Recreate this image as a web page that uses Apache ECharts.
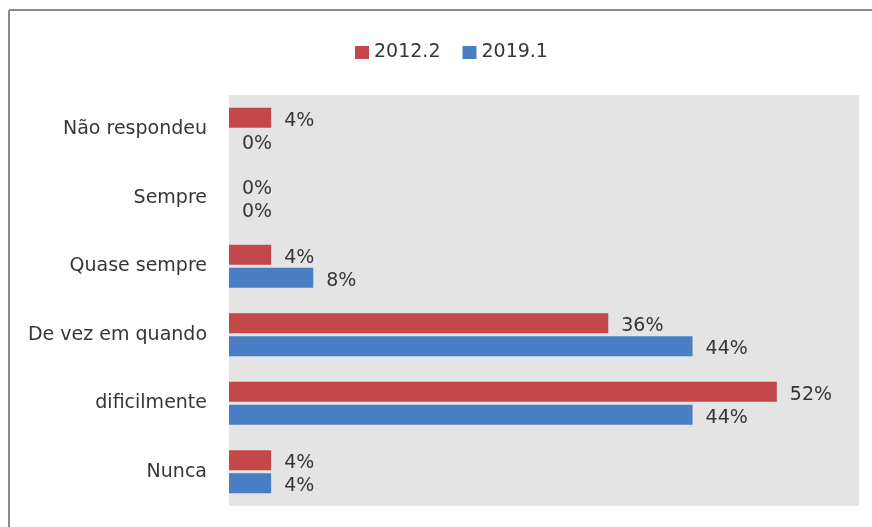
<!DOCTYPE html>
<html><head><meta charset="utf-8">
<script src="https://cdn.jsdelivr.net/npm/echarts@6/dist/echarts.min.js"></script>
<style>html,body{margin:0;padding:0;background:#fff}#c{width:872px;height:527px}</style>
</head><body><div id="c"></div>
<script>
const categories = ['Nunca', 'dificilmente', 'De vez em quando', 'Quase sempre', 'Sempre', 'Não respondeu'];
const seriesNames = ['2012.2', '2019.1'];
const values2012 = [4, 52, 36, 4, 0, 4];
const values2019 = [4, 44, 44, 8, 0, 0];

const FONT = 'DejaVu Sans';
const TXT = '#363636';
const chart = echarts.init(document.getElementById('c'), null, {renderer: 'canvas'});
const lbl = {show: true, position: 'right', distance: 13, offset: [0, 3], formatter: '{c}%', color: TXT, fontFamily: FONT, fontSize: 19};
chart.setOption({
  animation: false,
  backgroundColor: '#ffffff',
  graphic: [
    {type: 'line', shape: {x1: 9, y1: 10, x2: 872, y2: 10}, style: {stroke: '#8c8c8c', lineWidth: 2}},
    {type: 'line', shape: {x1: 9, y1: 10, x2: 9, y2: 527}, style: {stroke: '#8c8c8c', lineWidth: 2}}
  ],
  legend: {
    data: seriesNames, left: 350, top: 38, itemWidth: 14, itemHeight: 13, itemGap: 22,
    icon: 'rect',
    textStyle: {color: TXT, fontFamily: FONT, fontSize: 19}
  },
  grid: {left: 229, top: 95, right: 13, bottom: 21, show: true, backgroundColor: '#e4e4e4', borderWidth: 0},
  xAxis: {type: 'value', min: 0, max: 59.8, show: false, splitLine: {show: false}},
  yAxis: {
    type: 'category', data: categories,
    axisLine: {show: false}, axisTick: {show: false},
    axisLabel: {color: TXT, fontFamily: FONT, fontSize: 19, margin: 22}
  },
  series: [
    {name: seriesNames[0], type: 'bar', data: values2012, barWidth: 20, barGap: '15%', itemStyle: {color: '#c4484a'}, label: lbl},
    {name: seriesNames[1], type: 'bar', data: values2019, barWidth: 20, barGap: '15%', itemStyle: {color: '#4a7ec4'}, label: lbl}
  ]
});
</script></body></html>
